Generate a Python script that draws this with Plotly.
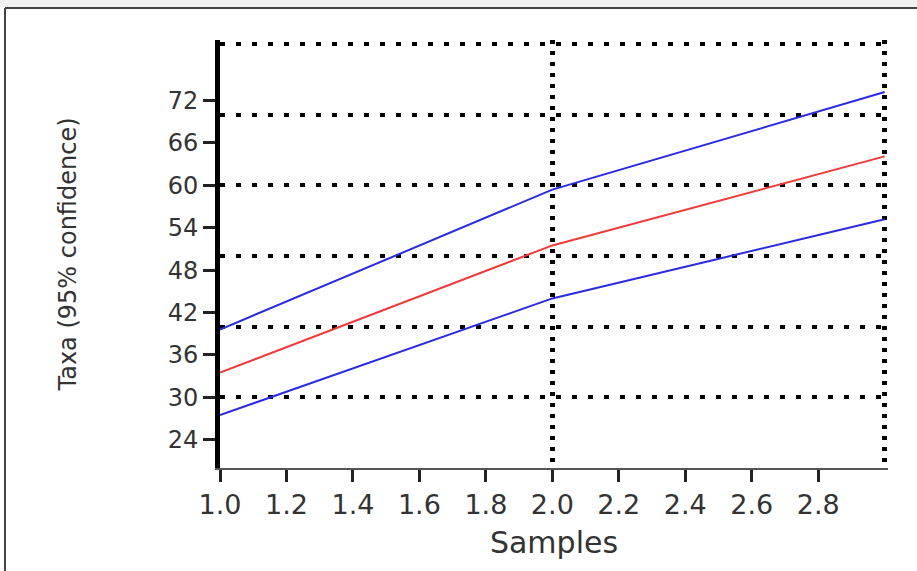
import plotly.graph_objects as go

# ---- data ----
samples = [1.0, 2.0, 3.0]
taxa_mean = [33.5, 51.5, 64.1]
taxa_upper = [39.6, 59.4, 73.2]
taxa_lower = [27.5, 44.0, 55.2]

y_ticks = [24, 30, 36, 42, 48, 54, 60, 66, 72]
x_ticks = [1.0, 1.2, 1.4, 1.6, 1.8, 2.0, 2.2, 2.4, 2.6, 2.8]
y_grid = [30, 40, 50, 60, 70, 80]
x_grid = [2, 3]

W, H = 917, 571
ML, MR, MT, MB = 220, 29, 40, 103

fig = go.Figure()
fig.add_trace(go.Scatter(x=samples, y=taxa_upper, mode="lines",
                         line=dict(color="#2a2ae0", width=2), showlegend=False))
fig.add_trace(go.Scatter(x=samples, y=taxa_mean, mode="lines",
                         line=dict(color="#ee3a3a", width=2), showlegend=False))
fig.add_trace(go.Scatter(x=samples, y=taxa_lower, mode="lines",
                         line=dict(color="#2a2ae0", width=2), showlegend=False))

FAM = "DejaVu Sans, Liberation Sans, Arial, sans-serif"
xtick_font = dict(family=FAM, size=27, color="#333333")
ytick_font = dict(family=FAM, size=24, color="#333333")
xtitle_font = dict(family=FAM, size=30, color="#333333")
ytitle_font = dict(family=FAM, size=24, color="#333333")

fig.update_xaxes(
    range=[1, 3.01], tickvals=x_ticks, ticktext=[f"{v:.1f}" for v in x_ticks],
    ticks="outside", ticklen=12, tickwidth=3, tickcolor="#222222",
    showline=True, linecolor="#555555", linewidth=2,
    showgrid=False, zeroline=False, tickfont=xtick_font, ticklabelstandoff=0,
    title=dict(text="Samples", font=xtitle_font, standoff=13),
    minor=dict(tickvals=x_grid, showgrid=True, gridcolor="black", gridwidth=5,
               griddash="4px,7px", ticklen=0),
)
fig.update_yaxes(
    range=[20, 80.57], tickvals=y_ticks,
    ticks="outside", ticklen=12, tickwidth=3, tickcolor="#222222",
    showline=True, linecolor="black", linewidth=5,
    showgrid=False, zeroline=False, tickfont=ytick_font,
    title=dict(text="Taxa (95% confidence)", font=ytitle_font, standoff=86),
    minor=dict(tickvals=y_grid, showgrid=True, gridcolor="black", gridwidth=4,
               griddash="5px,11px", ticklen=0),
)

pw = W - ML - MR
ph = H - MT - MB
def px_x(p):
    return (p - ML) / pw
def px_y(p):
    return (H - MB - p) / ph

shapes = [
    dict(type="rect", xref="paper", yref="paper", x0=px_x(0), x1=px_x(W), y0=px_y(7), y1=px_y(0),
         fillcolor="#f1f1f1", line=dict(width=0), layer="below"),
    dict(type="line", xref="paper", yref="paper", x0=px_x(5), x1=px_x(W), y0=px_y(8), y1=px_y(8),
         line=dict(color="#444444", width=2)),
    dict(type="line", xref="paper", yref="paper", x0=px_x(5), x1=px_x(5), y0=px_y(8), y1=px_y(H),
         line=dict(color="#444444", width=2)),
]

fig.update_layout(
    width=W, height=H, margin=dict(l=ML, r=MR, t=MT, b=MB, autoexpand=False),
    paper_bgcolor="white", plot_bgcolor="white",
    shapes=shapes, showlegend=False,
)

fig.write_html("out.html", config={"displayModeBar": False},
               post_script="document.body.style.margin='0';")
